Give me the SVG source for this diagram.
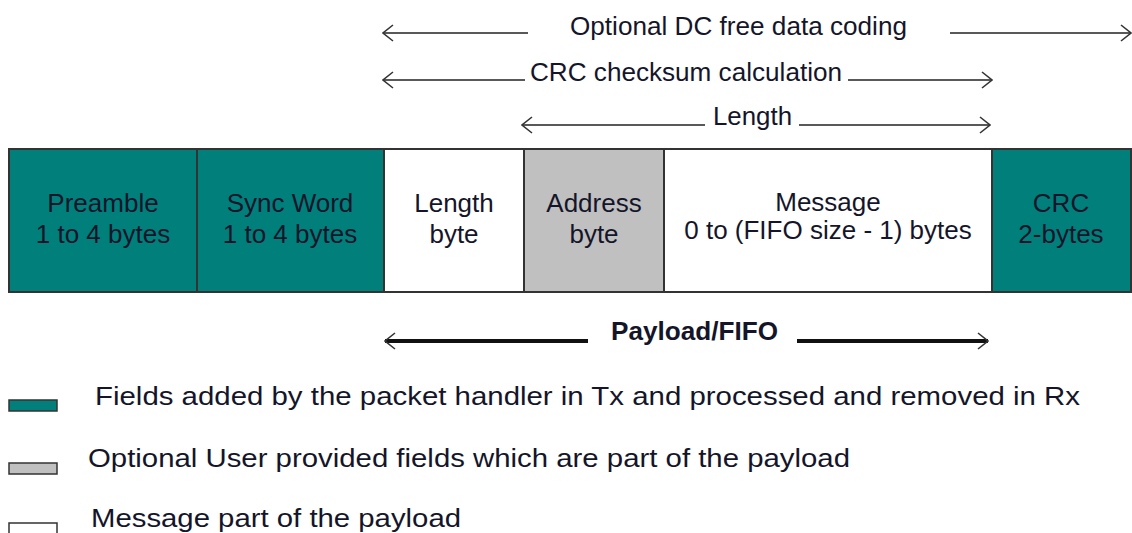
<svg xmlns="http://www.w3.org/2000/svg" width="1132" height="533" viewBox="0 0 1132 533">
<style>
  text { font-family: "Liberation Sans", Arial, sans-serif; fill: #15152a; }
  .lbl { font-size: 26px; text-anchor: middle; }
  .top { font-size: 25px; }
  .leg { font-size: 25px; }
  .box { stroke: #333; stroke-width: 2; }
  .teal { fill: #007f7b; }
  .gray { fill: #c0c0c0; }
  .white { fill: #ffffff; }
  .ln { stroke: #222; stroke-width: 1.6; fill: none; }
  .thick { stroke: #111; stroke-width: 4; fill: none; }
</style>
<defs>
  <marker id="ah" viewBox="0 0 12 18" refX="11" refY="9" markerWidth="12" markerHeight="18" markerUnits="userSpaceOnUse" orient="auto-start-reverse">
    <path d="M1,1 L11,9 L1,17" fill="none" stroke="#333" stroke-width="1.6"/>
  </marker>
</defs>
<rect width="1132" height="533" fill="#fff"/>

<g id="preamble">
  <rect class="box teal" x="9" y="149" width="188" height="143"/>
  <text class="lbl" x="103" y="212">Preamble</text>
  <text class="lbl" x="103" y="243">1 to 4 bytes</text>
</g>
<g id="sync">
  <rect class="box teal" x="197" y="149" width="187" height="143"/>
  <text class="lbl" x="290" y="212">Sync Word</text>
  <text class="lbl" x="290" y="243">1 to 4 bytes</text>
</g>
<g id="length">
  <rect class="box white" x="384" y="149" width="140" height="143"/>
  <text class="lbl" x="454" y="212">Length</text>
  <text class="lbl" x="454" y="243">byte</text>
</g>
<g id="address">
  <rect class="box gray" x="524" y="149" width="140" height="143"/>
  <text class="lbl" x="594" y="212">Address</text>
  <text class="lbl" x="594" y="243">byte</text>
</g>
<g id="message">
  <rect class="box white" x="664" y="149" width="328" height="143"/>
  <text class="lbl" x="828" y="211">Message</text>
  <text class="lbl" x="828" y="239">0 to (FIFO size - 1) bytes</text>
</g>
<g id="crc">
  <rect class="box teal" x="992" y="149" width="139" height="143"/>
  <text class="lbl" x="1061" y="212">CRC</text>
  <text class="lbl" x="1061" y="243">2-bytes</text>
</g>

<g id="connectors">
  <line class="ln" x1="528" y1="33" x2="383" y2="33" marker-end="url(#ah)"/>
  <line class="ln" x1="950" y1="33" x2="1131" y2="33" marker-end="url(#ah)"/>
  <line class="ln" x1="525" y1="80" x2="383" y2="80" marker-end="url(#ah)"/>
  <line class="ln" x1="848" y1="80" x2="992" y2="80" marker-end="url(#ah)"/>
  <line class="ln" x1="705" y1="125" x2="522" y2="125" marker-end="url(#ah)"/>
  <line class="ln" x1="799" y1="125" x2="990" y2="125" marker-end="url(#ah)"/>
  <line class="thick" x1="588" y1="341" x2="385" y2="341" marker-end="url(#ah)"/>
  <line class="thick" x1="797" y1="341" x2="988" y2="341" marker-end="url(#ah)"/>
</g>

<g id="labels">
  <text class="top" x="570" y="35" textLength="337" lengthAdjust="spacingAndGlyphs">Optional DC free data coding</text>
  <text class="top" x="530" y="81" textLength="312" lengthAdjust="spacingAndGlyphs">CRC checksum calculation</text>
  <text class="top" x="713" y="125" textLength="79" lengthAdjust="spacingAndGlyphs">Length</text>
  <text x="611" y="340" style="font-size:25px;font-weight:bold" textLength="167" lengthAdjust="spacingAndGlyphs">Payload/FIFO</text>
</g>

<g id="legend">
  <rect class="teal" x="9" y="400" width="48" height="11" stroke="#333" stroke-width="1.5"/>
  <text class="leg" x="95" y="405" textLength="985" lengthAdjust="spacingAndGlyphs">Fields added by the packet handler in Tx and processed and removed in Rx</text>
  <rect class="gray" x="9" y="463" width="48" height="11" stroke="#333" stroke-width="1.5"/>
  <text class="leg" x="88" y="467" textLength="762" lengthAdjust="spacingAndGlyphs">Optional User provided fields which are part of the payload</text>
  <rect class="white" x="9" y="523" width="48" height="14" stroke="#333" stroke-width="1.5"/>
  <text class="leg" x="91" y="527" textLength="370" lengthAdjust="spacingAndGlyphs">Message part of the payload</text>
</g>
</svg>
